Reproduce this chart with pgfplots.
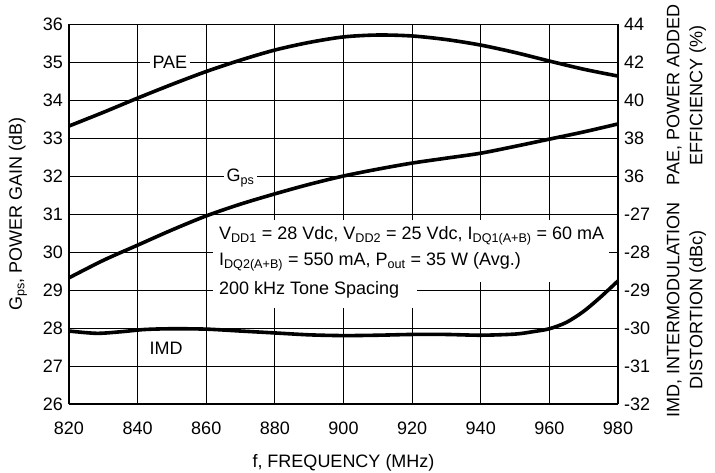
\documentclass[border=0pt]{standalone}
\usepackage{fontspec}
\setmainfont{Liberation Sans}
\usepackage{pgfplots}
\usepackage{pgfplotstable}
\pgfplotsset{compat=1.18}

% PAE (%) against frequency
\pgfplotstableread{
f pae
820 38.63
830 39.35
840 40.10
850 40.82
860 41.50
870 42.10
880 42.63
890 43.03
900 43.32
910 43.42
920 43.37
930 43.18
940 42.89
950 42.50
960 42.05
970 41.62
980 41.26
}\paetab

% Gps (dB)
\pgfplotstableread{
f g
820 29.32
830 29.78
840 30.18
850 30.58
860 30.95
870 31.26
880 31.53
890 31.78
900 32.00
910 32.18
920 32.34
930 32.47
940 32.60
950 32.78
960 32.97
970 33.16
980 33.37
}\gtab

% IMD (dBc)
\pgfplotstableread{
f imd
820 -30.08
828 -30.14
835 -30.10
842 -30.04
850 -30.02
860 -30.03
870 -30.08
880 -30.13
890 -30.18
900 -30.20
910 -30.19
920 -30.17
930 -30.17
940 -30.19
950 -30.16
955 -30.10
960 -30.02
965 -29.85
970 -29.56
975 -29.18
980 -28.76
}\imdtab

\begin{document}
\fontsize{18}{21}\selectfont
\begin{tikzpicture}
\begin{axis}[
  scale only axis,
  width=549pt, height=380pt,
  xmin=820, xmax=980, ymin=26, ymax=36,
  xtick={820,840,...,980},
  ytick={26,...,36},
  grid=major,
  grid style={black, line width=0.8pt},
  axis line style={line width=1.3pt},
  tick style={black, line width=0.8pt},
  tick align=inside,
  major tick length=8pt,
  axis y line*=left,
  axis x line*=bottom,
  every axis x line/.append style={-},
  every axis y line/.append style={-},
  /pgf/number format/assume math mode=true,
  /pgf/number format/1000 sep={},
  ticklabel style={font=\fontsize{18}{21}\selectfont},
  xticklabel style={yshift=-12pt},
  yticklabel style={xshift=0pt},
  clip=false,
]
\coordinate (bl) at (rel axis cs:0,0);
\coordinate (tr) at (rel axis cs:1,1);
\node[rotate=90] at (rel axis cs:-0.093,0.50) {G\textsubscript{ps}, POWER GAIN (dB)};
\node at (rel axis cs:0.5,-0.155) {f, FREQUENCY (MHz)};

% labels of curves
\node[fill=white, inner sep=3pt] at (axis cs:849.4,35.0) {PAE};
\node[fill=white, inner sep=3pt] at (axis cs:870,31.95) {G\textsubscript{ps}};
\node at (axis cs:848.3,27.47) {IMD};

% conditions, on white
\fill[white] (axis cs:862,30.84) rectangle (axis cs:977.5,29.21);
\fill[white] (axis cs:862,29.21) rectangle (axis cs:921.5,28.53);
\node[anchor=west, inner sep=0pt] at (axis cs:863.7,30.42)
  {V\textsubscript{DD1} = 28 Vdc, V\textsubscript{DD2} = 25 Vdc, I\textsubscript{DQ1(A+B)} = 60 mA};
\node[anchor=west, inner sep=0pt] at (axis cs:863.7,29.74)
  {I\textsubscript{DQ2(A+B)} = 550 mA, P\textsubscript{out} = 35 W (Avg.)};
\node[anchor=west, inner sep=0pt] at (axis cs:863.7,29.0)
  {200 kHz Tone Spacing};
\draw[black, line width=0.8pt] (axis cs:980,30) -- (axis cs:977.67,30);

\addplot[black, line width=3.6pt, smooth] table[x=f, y expr=14+\thisrow{pae}/2] {\paetab};
\addplot[black, line width=3.6pt, smooth] table[x=f, y=g] {\gtab};
\addplot[black, line width=3.6pt, smooth] table[x=f, y expr=\thisrow{imd}+58] {\imdtab};
\end{axis}

\begin{axis}[
  scale only axis,
  width=549pt, height=380pt,
  xmin=820, xmax=980, ymin=26, ymax=36,
  axis x line=none,
  axis y line*=right,
  every axis y line/.append style={-},
  axis line style={line width=1.3pt},
  tick style={black, line width=0.8pt},
  tick align=inside,
  major tick length=8pt,
  ytick={26,...,36},
  yticklabels={-32,-31,-30,-29,-28,-27,36,38,40,42,44},
  ticklabel style={font=\fontsize{18}{21}\selectfont},
  yticklabel style={xshift=0pt},
  clip=false,
]
\node[rotate=90, align=center, font=\fontsize{18}{23}\selectfont]
  at (rel axis cs:1.1248,0.813) {PAE, POWER ADDED\\EFFICIENCY (\%)};
\node[rotate=90, align=center, font=\fontsize{18}{23}\selectfont]
  at (rel axis cs:1.1248,0.247) {IMD, INTERMODULATION\\DISTORTION (dBc)};
\end{axis}
\pgfresetboundingbox
\path[use as bounding box] ([shift={(-69pt,-69pt)}]bl) rectangle ([shift={(97pt,24pt)}]tr);
\end{tikzpicture}
\end{document}
